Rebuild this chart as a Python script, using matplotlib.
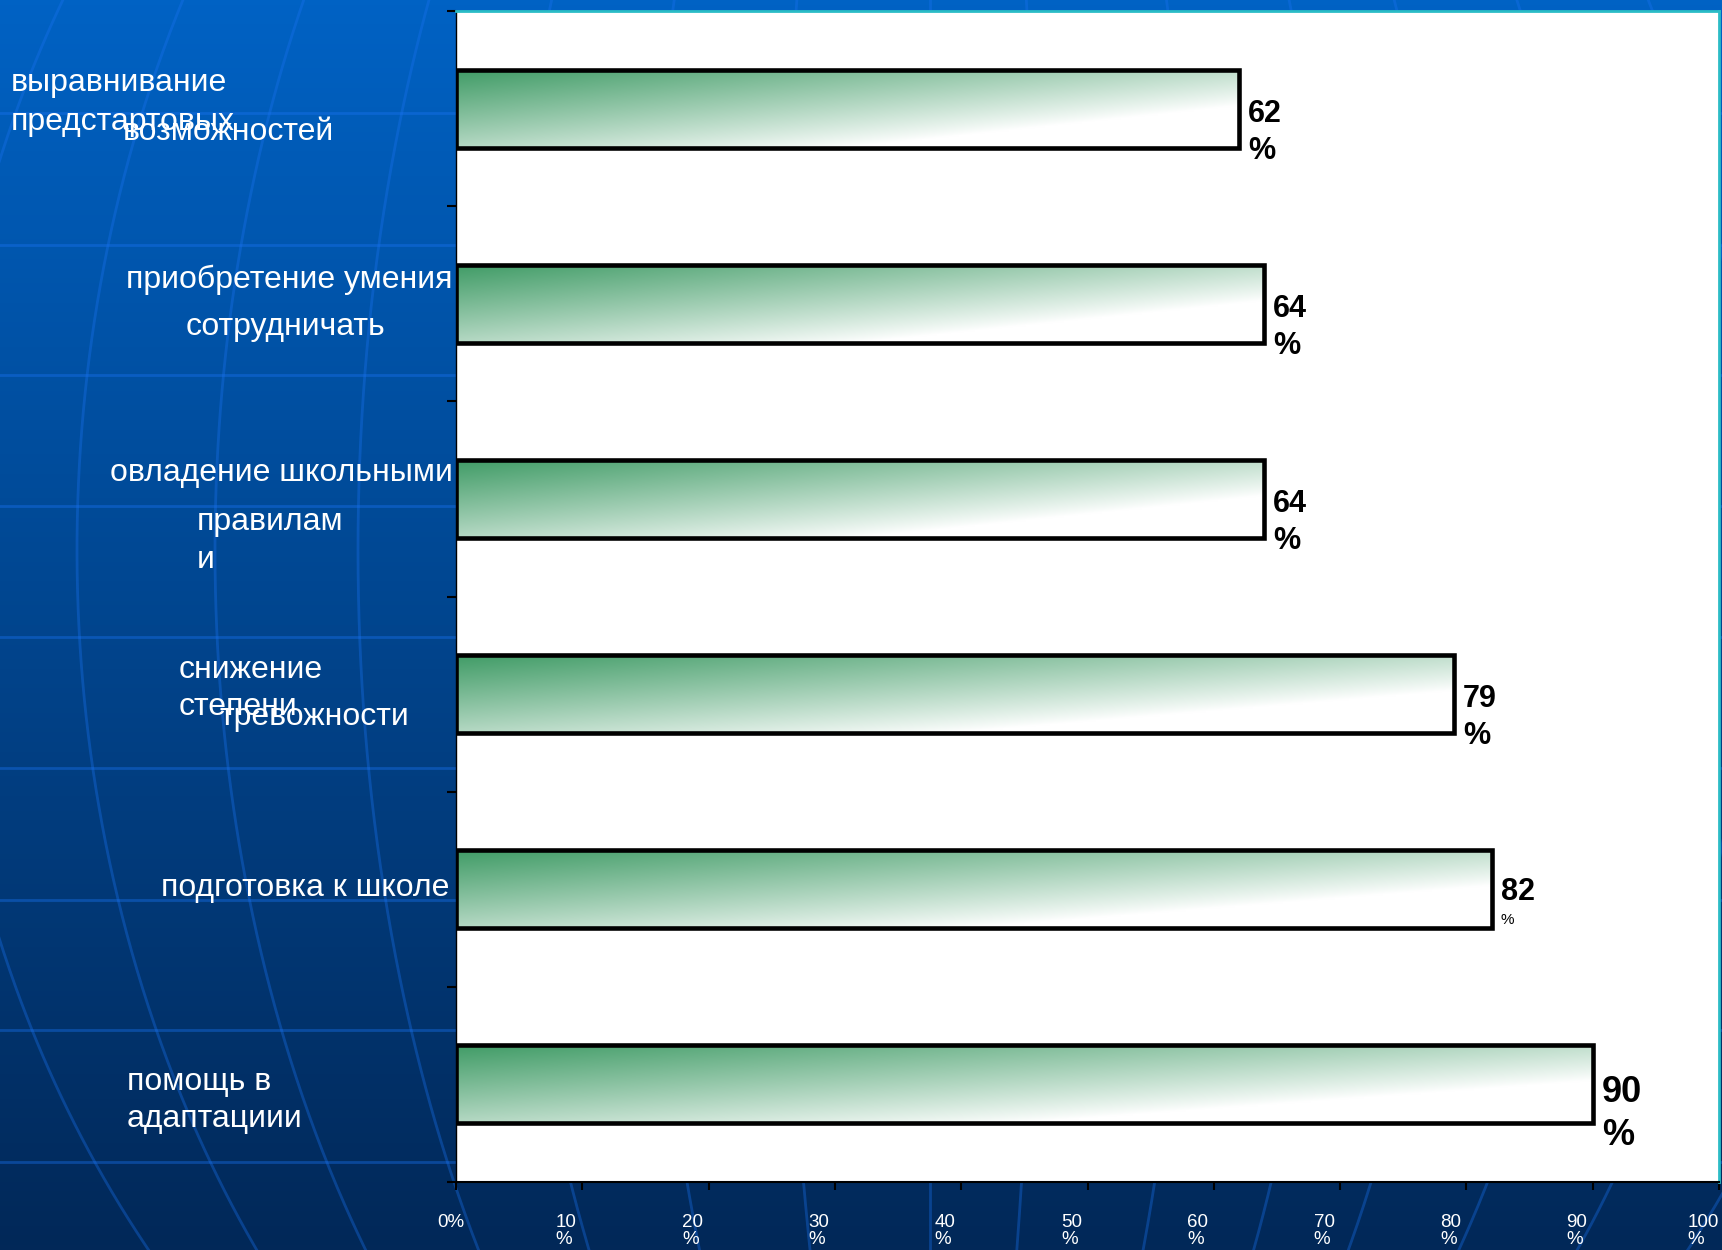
import numpy as np
import matplotlib
matplotlib.use("Agg")
import matplotlib.pyplot as plt
import matplotlib.transforms as mtransforms

# Data
category_lines = [
    ["выравнивание", "предстартовых", "возможностей"],
    ["приобретение умения", "сотрудничать"],
    ["овладение школьными", "правилам", "и"],
    ["снижение", "степени", "тревожности"],
    ["подготовка к школе"],
    ["помощь в", "адаптациии"],
]
values = [62, 64, 64, 79, 82, 90]
x_ticks = [0, 10, 20, 30, 40, 50, 60, 70, 80, 90, 100]
x_tick_labels = ["0%", "10\n%", "20\n%", "30\n%", "40\n%", "50\n%",
                 "60\n%", "70\n%", "80\n%", "90\n%", "100\n%"]

# Layout of the (overflowing) category text boxes: x in px, dy px from bar centre
label_layout = [
    [(11, -26, "left"), (11, 13, "left"), (123, 23, "left")],
    [(452, -24, "right"), (186, 23, "left")],
    [(453, -26, "right"), (197, 23, "left"), (197, 61, "left")],
    [(179, -24, "left"), (179, 13, "left"), (220, 23, "left")],
    [(449, -1, "right")],
    [(127, -2, "left"), (127, 35, "left")],
]
num_sizes = [22, 22, 22, 22, 22, 26]
pct_sizes = [22, 22, 22, 22, 11, 26]
pct_bold = [True, True, True, True, False, True]
num_base = [13, 13, 13, 13, 11, 18]
pct_base = [50, 50, 50, 50, 35, 61]

W, H = 1722, 1250
plt.rcParams["font.family"] = ["Liberation Sans", "DejaVu Sans"]

fig = plt.figure(figsize=(W / 100, H / 100), dpi=100)

# Background: blue vertical gradient with faint globe lines
bg = fig.add_axes([0, 0, 1, 1], zorder=0)
top_c = np.array([0, 98, 196]) / 255.0
bot_c = np.array([2, 40, 88]) / 255.0
t = np.linspace(0, 1, 256)[:, None]
bg_grad = (top_c + (bot_c - top_c) * t)[:, None, :]
bg.imshow(bg_grad, extent=(0, W, H, 0), aspect="auto")
line_col = (0.1, 0.45, 0.95)
for yy in [113, 245, 375, 506, 637, 768, 900, 1030, 1162]:
    bg.plot([0, W], [yy, yy], color=line_col, alpha=0.4, lw=2)
ys = np.linspace(-50, H + 50, 300)
fac = np.sqrt(np.clip(1 - ((ys - 550) / 1140.0) ** 2, 0, None))
for a in [-990, -853, -715, -572, -432, -292, -152, 0, 110, 270, 410, 530, 670, 820, 960]:
    bg.plot(930 + a * fac, ys, color=line_col, alpha=0.35, lw=2)
bg.set_xlim(0, W)
bg.set_ylim(H, 0)
bg.axis("off")

# Main chart
ax = fig.add_axes([456 / W, 1 - 1182 / H, (1719 - 456) / W, (1182 - 11) / H], zorder=1)
ax.set_facecolor("white")
ypos = np.arange(len(values))
bars = ax.barh(ypos, values, height=0.4, facecolor="none",
               edgecolor="black", linewidth=3.3, zorder=3)

green = np.array([0.25, 0.61, 0.40])
gv, gh = np.mgrid[0:1:60j, 0:1:300j]
w = np.clip(1 - 0.7 * gh - 0.65 * gv, 0, 1) ** 0.9
bar_grad = 1 - w[..., None] * (1 - green)
for bar in bars:
    x0, y0 = bar.get_x(), bar.get_y()
    bw, bh = bar.get_width(), bar.get_height()
    im = ax.imshow(bar_grad, extent=(x0, x0 + bw, y0 + bh, y0),
                   aspect="auto", zorder=2, interpolation="bilinear")
    im.set_clip_path(bar)

ax.set_xlim(0, 100)
ax.set_ylim(len(values) - 0.5, -0.5)
ax.set_xticks(x_ticks)
ax.set_xticklabels(x_tick_labels, linespacing=1.05, multialignment="left")
ax.set_yticks(np.arange(-0.5, len(values), 1.0))
ax.set_yticklabels([])
ax.tick_params(axis="x", direction="out", length=5.8, width=1.5, color="black",
               labelcolor="white", labelsize=13.5, pad=17)
ax.tick_params(axis="y", direction="out", length=6.5, width=1.5, color="black")
for k, lab in enumerate(ax.get_xticklabels()):
    shift = -5 if k == 0 else -16
    lab.set_transform(lab.get_transform()
                      + mtransforms.ScaledTranslation(shift / 100, 0, fig.dpi_scale_trans))
ax.spines["left"].set_linewidth(1)
ax.spines["bottom"].set_linewidth(1.5)
for s in ["top", "right"]:
    ax.spines[s].set_color("#2bbcc6")
    ax.spines[s].set_linewidth(2)

# Category labels
lab_tr = mtransforms.blended_transform_factory(fig.transFigure, ax.transData)
for i, lines in enumerate(category_lines):
    for text, (xp, dy, ha) in zip(lines, label_layout[i]):
        tr = mtransforms.offset_copy(lab_tr, y=-(dy + 8), units="dots")
        ax.text(xp / W, i, text, transform=tr, ha=ha, va="baseline",
                color="white", fontsize=23)

# Value labels
for i, v in enumerate(values):
    tr = mtransforms.offset_copy(ax.transData, x=9, y=-num_base[i], units="dots")
    ax.text(v, i, str(v), transform=tr, ha="left", va="baseline",
            fontsize=num_sizes[i], fontweight="bold", color="black")
    tr = mtransforms.offset_copy(ax.transData, x=9, y=-pct_base[i], units="dots")
    ax.text(v, i, "%", transform=tr, ha="left", va="baseline",
            fontsize=pct_sizes[i], fontweight="bold" if pct_bold[i] else "normal",
            color="black")

fig.savefig("out.png", dpi=100)
